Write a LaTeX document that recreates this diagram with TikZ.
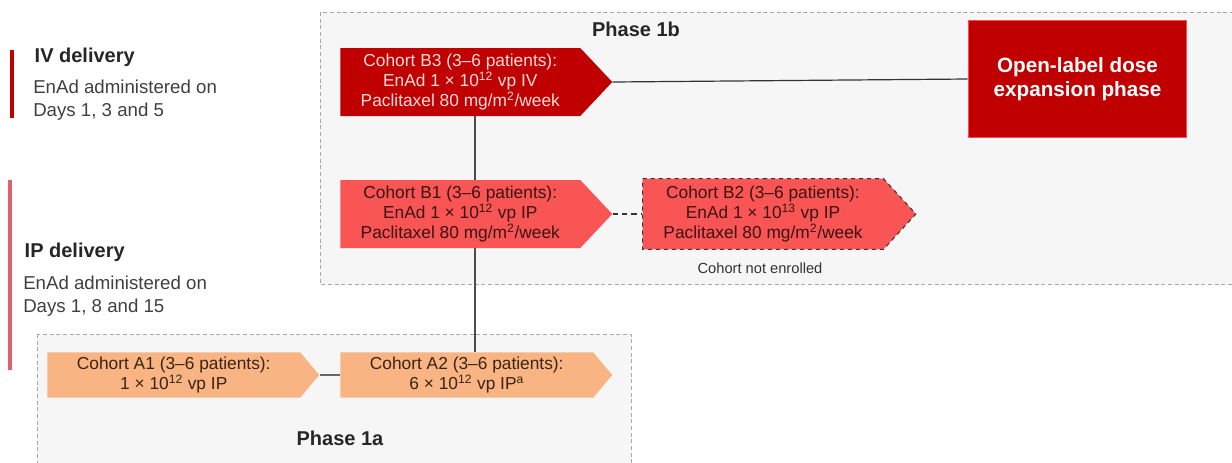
\documentclass[tikz,border=0pt]{standalone}
\usepackage{fontspec}
\setmainfont{Liberation Sans}
\usetikzlibrary{shapes.symbols,calc}
\definecolor{darkred}{HTML}{C00000}
\definecolor{midred}{HTML}{FA5555}
\definecolor{peach}{HTML}{F9B484}
\definecolor{phasebg}{HTML}{F6F6F6}
\definecolor{phaseline}{HTML}{A8A8A8}
\definecolor{ipbar}{HTML}{E0606E}
\definecolor{lighttext}{HTML}{F8DCDC}
\definecolor{darktext}{HTML}{3A1212}
\definecolor{ortext}{HTML}{3A2410}
\tikzset{
  phasebox/.style={draw=phaseline, fill=phasebg, dashed, dash pattern=on 3pt off 2pt, line width=0.6pt},
  cohort/.style={shape=signal, signal to=east, anchor=west, align=center, inner sep=0pt,
     font=\fontsize{13}{15}\selectfont},
  bthree/.style={cohort, fill=darkred, text=lighttext, minimum width=204pt, minimum height=51pt, signal pointer angle=93.5},
  bone/.style={cohort, fill=midred, text=darktext, minimum width=204pt, minimum height=51pt, signal pointer angle=93.5},
  btwo/.style={cohort, fill=midred, text=darktext, draw=black!80, dashed, line width=0.8pt, minimum width=205pt, minimum height=53pt, signal pointer angle=95},
  acoh/.style={cohort, fill=peach, text=ortext, minimum width=204pt, minimum height=34pt, signal pointer angle=100},
  heading/.style={anchor=west, font=\bfseries\fontsize{15}{18}\selectfont, text=black!85},
  body/.style={anchor=north west, align=left, font=\fontsize{14}{17}\selectfont, text=black!75, inner sep=0pt},
  link/.style={draw=black!80, line width=0.9pt},
}
\begin{document}
\begin{tikzpicture}[x=0.75pt, y=-0.75pt]
\useasboundingbox (0,0) rectangle (1232,462);
\begin{scope}
\clip (0,0) rectangle (1232,462);
\path[phasebox] (320,12) rectangle (1245,284);
\path[phasebox] (37,334) rectangle (631,475);
\end{scope}
\node[font=\bfseries\fontsize{15}{18}\selectfont, text=black!85] (p1b) at (636,29) {Phase 1b};
\node[font=\bfseries\fontsize{15}{18}\selectfont, text=black!85] (p1a) at (340,438) {Phase 1a};

% left legend
\fill[darkred] (10,50) rectangle (14,118);
\fill[ipbar] (8,180) rectangle (12,370);
\node[heading] (iv) at (30,57) {IV delivery};
\node[body] (ivt) at (33,80) {EnAd administered on\\Days 1, 3 and 5};
\node[heading] (ip) at (20,252) {IP delivery};
\node[body] (ipt) at (23,276) {EnAd administered on\\Days 1, 8 and 15};

% cohorts
\node[bthree] (B3) at (340,82) {Cohort B3 (3–6 patients):\\EnAd 1 × 10\textsuperscript{12} vp IV\\Paclitaxel 80 mg/m\textsuperscript{2}/week};
\node[bone] (B1) at (340,214) {Cohort B1 (3–6 patients):\\EnAd 1 × 10\textsuperscript{12} vp IP\\Paclitaxel 80 mg/m\textsuperscript{2}/week};
\node[btwo] (B2) at (642,214) {Cohort B2 (3–6 patients):\\EnAd 1 × 10\textsuperscript{13} vp IP\\Paclitaxel 80 mg/m\textsuperscript{2}/week};
\node[font=\fontsize{11}{13}\selectfont, text=black!80] (ne) at (760,268) {Cohort not enrolled};
\node[acoh] (A1) at (47,375) {Cohort A1 (3–6 patients):\\1 × 10\textsuperscript{12} vp IP};
\node[acoh] (A2) at (340,375) {Cohort A2 (3–6 patients):\\6 × 10\textsuperscript{12} vp IP\textsuperscript{a}};
\node[fill=darkred, draw=red!70!white, line width=0.8pt, minimum width=164pt, minimum height=88pt, text=white,
      font=\bfseries\fontsize{15.5}{18}\selectfont, align=center] (OL) at (1077.5,79) {\raisebox{-2pt}{Open-label dose}\\\raisebox{-2pt}{expansion phase}};

% connectors
\coordinate (vx) at (475,0);
\draw[link] (B3.east) -- (OL.west);
\draw[link, dashed, dash pattern=on 4pt off 3pt] (B1.east) -- (B2.west);
\draw[link, draw=black!60] (A1.east) -- (A2.west);
\draw[link, draw=black!70] (B3.south -| vx) -- (B1.north -| vx);
\draw[link, draw=black!70] (B1.south -| vx) -- (A2.north -| vx);
\end{tikzpicture}
\end{document}
